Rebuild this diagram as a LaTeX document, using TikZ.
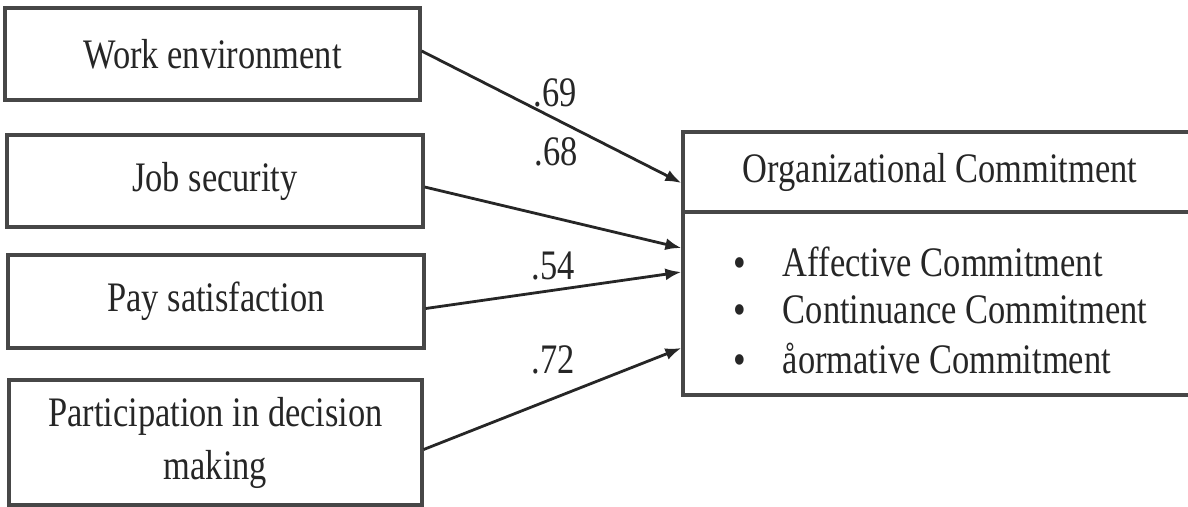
\documentclass[tikz,border=0pt]{standalone}
\usepackage{fontspec}
\setmainfont{Liberation Serif}[FakeStretch=0.82]
\usetikzlibrary{arrows.meta,calc}
\newcommand{\bigdot}{\smash{\raisebox{-1pt}{\fontsize{44}{40}\selectfont•}}}
\begin{document}
\begin{tikzpicture}[x=1pt,y=-1pt,
  box/.style={draw=black!72,line width=3.3pt,rectangle,inner sep=0pt,align=center,
    font=\fontsize{42}{53}\selectfont,text=black!85},
  conn/.style={draw=black!85,line width=2.8pt,-{Latex[length=16pt,width=12pt]}},
  lbl/.style={font=\fontsize{42}{53}\selectfont,inner sep=0pt,text=black!85},
  item/.style={font=\fontsize{42}{53}\selectfont,inner sep=0pt,anchor=west,text=black!85}]
\useasboundingbox (0,0) rectangle (1188,506);
\fill[white] (0,0) rectangle (1188,506);
\node[box,minimum width=415pt,minimum height=92pt] (b1) at (212.5,54) {Work environment};
\node[box,minimum width=416pt,minimum height=92pt] (b2) at (215,181) {Job security};
\node[box,minimum width=416pt,minimum height=93pt] (b3) at (216,301.5) {Pay satisfaction};
\node[box,minimum width=413pt,minimum height=125pt] (b4) at (215.5,442.5) {Participation in decision\\making};
\node[box,minimum width=508pt,minimum height=80pt] (oc) at (937,172) {};
\node[lbl] (octext) at (940,172) {Organizational Commitment};
\node[box,minimum width=508pt,minimum height=183pt] (body) at (937,303.5) {};
\node[item] (i1) at (733,262) {\bigdot\hspace{37pt}Affective Commitment};
\node[item] (i2) at (733,310) {\bigdot\hspace{37pt}Continuance Commitment};
\node[item] (i3) at (733,358) {\bigdot\hspace{37pt}åormative Commitment};
\coordinate (t1) at ($(oc.west)+(0,11)$);
\coordinate (t2) at ($(body.west)+(0,-55.5)$);
\coordinate (t3) at ($(body.west)+(0,-31.5)$);
\coordinate (t4) at ($(body.west)+(0,44.5)$);
\draw[conn] ($(b1.east)+(0,-3)$) -- (t1);
\draw[conn] ($(b2.east)+(0,6)$) -- (t2);
\draw[conn] ($(b3.east)+(0,7)$) -- (t3);
\draw[conn] ($(b4.east)+(0,7)$) -- (t4);
\node[lbl] (l1) at (555,93) {.69};
\node[lbl] (l2) at (556,152) {.68};
\node[lbl] (l3) at (553,266) {.54};
\node[lbl] (l4) at (553,360) {.72};
\end{tikzpicture}
\end{document}
